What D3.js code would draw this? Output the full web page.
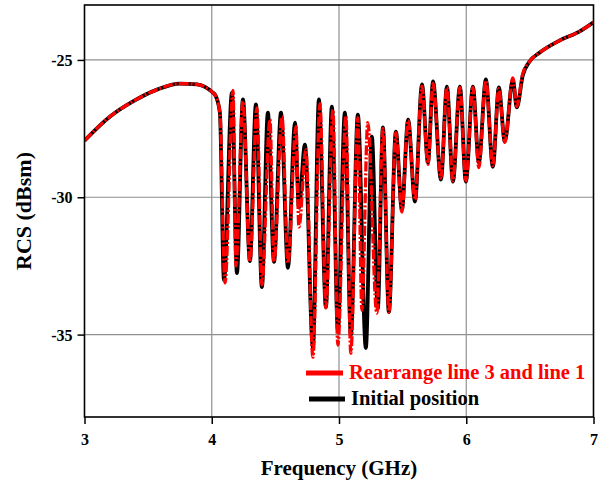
<!DOCTYPE html>
<html>
<head>
<meta charset="utf-8">
<script src="https://cdn.jsdelivr.net/npm/d3@7"></script>
<style>
  body { margin: 0; background: #fff; }
  text { font-family: "Liberation Serif", "Times New Roman", serif; font-weight: bold; }
</style>
</head>
<body>
<script>
// tick labels
var xTicks = [3, 4, 5, 6, 7];
var yTicks = [-35, -30, -25];

// Initial position (black)
var freqInit = [3.000, 3.201, 3.381, 3.570, 3.750, 3.884, 4.009, 4.025, 4.064, 4.096,
  4.159, 4.198, 4.245, 4.300, 4.347, 4.394, 4.441, 4.489, 4.544, 4.599,
  4.654, 4.685, 4.732, 4.795, 4.842, 4.897, 4.944, 4.991, 5.046, 5.093,
  5.148, 5.211, 5.258, 5.305, 5.345, 5.392, 5.447, 5.494, 5.543, 5.597,
  5.652, 5.699, 5.739, 5.801, 5.848, 5.895, 5.950, 5.997, 6.052, 6.099,
  6.154, 6.209, 6.256, 6.303, 6.366, 6.397, 6.444, 6.499, 6.578, 6.735,
  6.892, 7.000];
var rcsInit = [-27.94, -27.06, -26.51, -26.08, -25.86, -25.89, -26.19, -26.26, -26.92, -33.01,
  -26.19, -32.76, -26.44, -32.32, -26.62, -33.27, -26.92, -32.35, -26.92, -32.57,
  -27.28, -30.38, -28.08, -35.46, -26.44, -34.00, -26.70, -34.84, -26.92, -35.02,
  -26.99, -35.49, -27.79, -34.05, -27.46, -34.18, -27.61, -30.46, -27.17, -30.16,
  -25.89, -28.74, -25.78, -29.36, -25.97, -29.43, -25.97, -29.43, -25.97, -28.74,
  -25.71, -28.89, -26.00, -27.97, -25.71, -26.73, -25.57, -25.05, -24.73, -24.29,
  -23.96, -23.63];

// Rearrange line 3 and line 1 (red)
var freqRearr = [3.000, 3.201, 3.381, 3.570, 3.750, 3.884, 4.009, 4.025, 4.064, 4.104,
  4.167, 4.190, 4.245, 4.300, 4.355, 4.394, 4.457, 4.489, 4.552, 4.599,
  4.662, 4.685, 4.740, 4.795, 4.850, 4.897, 4.952, 4.991, 5.054, 5.093,
  5.148, 5.180, 5.226, 5.297, 5.345, 5.392, 5.447, 5.494, 5.543, 5.597,
  5.652, 5.699, 5.739, 5.801, 5.848, 5.895, 5.950, 5.997, 6.052, 6.099,
  6.154, 6.209, 6.256, 6.303, 6.366, 6.397, 6.444, 6.499, 6.578, 6.735,
  6.892, 7.000];
var rcsRearr = [-27.94, -27.06, -26.51, -26.08, -25.86, -25.89, -26.19, -26.26, -26.92, -33.12,
  -26.11, -32.50, -26.50, -32.35, -26.75, -33.19, -27.17, -32.35, -27.06, -32.40,
  -27.43, -31.08, -28.27, -35.82, -26.59, -34.03, -26.81, -35.38, -27.03, -35.68,
  -27.10, -34.11, -27.28, -34.22, -27.50, -34.18, -27.65, -30.54, -27.20, -30.09,
  -25.95, -28.80, -25.85, -29.30, -26.00, -29.40, -26.00, -29.40, -26.00, -28.92,
  -25.75, -28.85, -26.05, -28.00, -25.65, -26.70, -25.50, -25.05, -24.73, -24.29,
  -23.96, -23.63];

var seriesNames = ["Rearrange line 3 and line 1", "Initial position"];
var seriesColors = ["#ff0000", "#000000"];

var W = 599, H = 487;
var margin = {left: 84.5, right: 5.5, top: 5, bottom: 70};
var iw = W - margin.left - margin.right;
var ih = H - margin.top - margin.bottom;

var svg = d3.select("body").append("svg")
    .attr("width", W)
    .attr("height", H);

var g = svg.append("g").attr("transform", "translate(" + margin.left + "," + margin.top + ")");

var x = d3.scaleLinear().domain([3, 7]).range([0, iw]);
var y = d3.scaleLinear().domain([-38, -23]).range([ih, 0]);

// grid
g.selectAll(".vgrid").data(xTicks.slice(1, -1)).enter().append("line")
    .attr("x1", function(d) { return x(d); })
    .attr("x2", function(d) { return x(d); })
    .attr("y1", 0).attr("y2", ih)
    .attr("stroke", "#909090").attr("stroke-width", 1.2);
g.selectAll(".hgrid").data(yTicks).enter().append("line")
    .attr("x1", 0).attr("x2", iw)
    .attr("y1", function(d) { return y(d); })
    .attr("y2", function(d) { return y(d); })
    .attr("stroke", "#909090").attr("stroke-width", 1.2);

// curves
function toPts(fx, fy) {
    return fx.map(function(f, i) { return [f, fy[i]]; });
}
var line = d3.line()
    .x(function(d) { return x(d[0]); })
    .y(function(d) { return y(d[1]); })
    .curve(d3.curveMonotoneX);

svg.append("clipPath").attr("id", "clip")
    .append("rect").attr("width", iw).attr("height", ih);

var plot = g.append("g").attr("clip-path", "url(#clip)");
plot.append("path")
    .attr("d", line(toPts(freqInit, rcsInit)))
    .attr("fill", "none")
    .attr("stroke", seriesColors[1])
    .attr("stroke-width", 3.8)
    .attr("stroke-linejoin", "round");
plot.append("path")
    .attr("d", line(toPts(freqRearr, rcsRearr)))
    .attr("fill", "none")
    .attr("stroke", seriesColors[0])
    .attr("stroke-width", 3.3)
    .attr("stroke-dasharray", "10,2,2,2");

// axes
var xAxis = d3.axisBottom(x).tickValues(xTicks).tickSize(7).tickFormat(function(d) { return String(d); });
var yAxis = d3.axisLeft(y).tickValues(yTicks).tickSize(7).tickFormat(function(d) { return String(d); });

var gx = g.append("g").attr("transform", "translate(0," + ih + ")").call(xAxis);
var gy = g.append("g").call(yAxis);
[gx, gy].forEach(function(a) {
    a.select(".domain").remove();
    a.selectAll(".tick line").attr("stroke", "#000").attr("stroke-width", 1.5);
    a.selectAll(".tick text")
        .attr("fill", "#000")
        .style("font-family", "'Liberation Serif', serif")
        .style("font-weight", "bold")
        .style("font-size", "16px");
});
gx.selectAll(".tick text").attr("dy", "1.1em");
gy.selectAll(".tick text").attr("x", -12).attr("dy", "0.35em");

// frame
g.append("rect")
    .attr("width", iw).attr("height", ih)
    .attr("fill", "none").attr("stroke", "#000").attr("stroke-width", 1.6);

// axis titles
svg.append("text")
    .attr("x", margin.left + iw / 2)
    .attr("y", 475)
    .attr("text-anchor", "middle")
    .style("font-size", "21px")
    .text("Frequency (GHz)");
svg.append("text")
    .attr("transform", "translate(31," + (margin.top + y(-30.5)) + ") rotate(-90)")
    .attr("text-anchor", "middle")
    .style("font-size", "22px")
    .text("RCS (dBsm)");

// legend
var legend = svg.append("g");
var legY = [373, 399];
var legX = [[306, 343], [309, 345]];
seriesNames.forEach(function(name, i) {
    legend.append("line")
        .attr("x1", legX[i][0]).attr("x2", legX[i][1])
        .attr("y1", legY[i]).attr("y2", legY[i])
        .attr("stroke", seriesColors[i])
        .attr("stroke-width", 5);
    legend.append("text")
        .attr("x", legX[i][1] + 6)
        .attr("y", legY[i] + 6)
        .attr("fill", seriesColors[i])
        .style("font-size", "20.5px")
        .text(name);
});
</script>
</body>
</html>
